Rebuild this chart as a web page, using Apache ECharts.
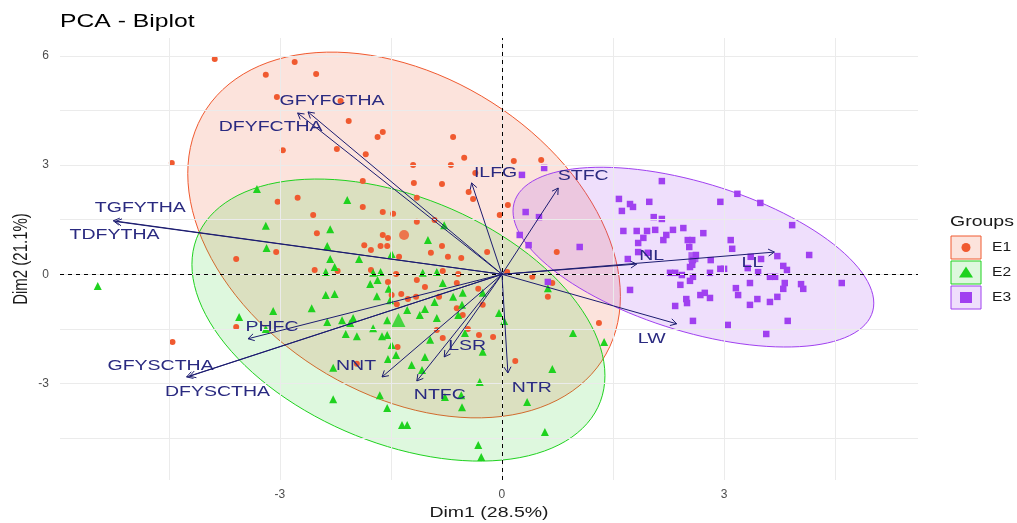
<!DOCTYPE html>
<html>
<head>
<meta charset="utf-8">
<script src="https://cdn.jsdelivr.net/npm/echarts@6/dist/echarts.min.js"></script>
<style>
html,body{margin:0;padding:0;background:#fff;}
#chart{width:1017px;height:523px;}
</style>
</head>
<body>
<div id="chart"></div>
<script>
// ---------------- data ----------------
const groupNames = ['E1', 'E2', 'E3'];
const xTickValues = [-3, 0, 3];
const yTickValues = [-3, 0, 3, 6];
const xGridValues = [-4.5, -3, -1.5, 0, 1.5, 3, 4.5];
const yGridValues = [-4.5, -3, -1.5, 0, 1.5, 3, 4.5, 6];

const e1Points = [
 [-3.88,5.91],[-2.80,5.83],[-3.19,5.48],[-2.51,5.50],[-3.04,4.87],[-2.18,4.76],[-2.07,4.21],[-1.61,3.91],
 [-1.68,3.77],[-0.66,3.77],[-0.51,3.20],[0.16,3.11],[0.53,3.14],[-2.96,3.41],[-2.23,3.44],[-1.84,3.30],
 [-1.20,3.00],[-0.69,3.00],[-0.36,2.78],[-4.46,3.06],[-1.88,2.56],[-1.19,2.51],[-0.81,2.48],[-0.45,2.26],
 [-0.39,2.07],[-1.15,2.10],[-0.03,1.63],[0.08,1.90],[-3.03,1.99],[-2.76,2.10],[-1.88,1.85],[-1.61,1.71],
 [-1.47,1.66],[-2.55,1.63],[-1.15,1.44],[-0.91,1.49],[-2.50,1.13],[-1.61,1.08],[-1.54,1.00],[-1.86,0.80],
 [-1.77,0.67],[-1.64,0.78],[-1.55,0.78],[-1.39,0.48],[-0.96,0.59],[-0.73,0.48],[-0.55,0.45],[-0.81,0.78],
 [-0.20,0.61],[-3.59,0.42],[-3.05,0.61],[-2.53,0.12],[-2.22,0.09],[-1.77,0.12],[-1.43,0.01],[-0.80,0.09],
 [-0.59,0.01],[-1.15,-0.16],[-1.54,-0.21],[-1.04,-0.35],[-0.61,-0.24],[-0.32,-0.40],[-1.49,-0.57],[-1.36,-0.54],
 [-1.16,-0.62],[-1.27,-0.68],[-0.85,-0.62],[-1.42,-0.82],[-0.61,-0.93],[-0.53,-1.12],[-0.26,-0.84],[-0.46,-1.50],
 [-0.31,-1.67],[-0.12,-1.72],[-0.80,-1.75],[-1.41,-2.00],[0.18,-2.38],[1.31,-1.34],[-1.96,-2.46],[0.74,0.61],
 [0.41,-0.07],[0.68,-0.24],[0.62,-0.62],[0.07,0.06],[-3.59,-1.45],[-4.45,-1.86],[-0.88,-1.53]
];
const e2Points = [
 [-3.31,2.34],[-2.09,2.04],[-3.19,1.33],[-2.32,1.24],[-3.18,0.72],[-2.36,0.78],[-2.32,0.42],[-1.93,0.42],
 [-1.00,0.94],[-0.78,1.35],[-1.49,0.56],[-5.46,-0.32],[-3.55,-1.17],[-3.09,-1.01],[-2.57,-0.93],[-3.19,-1.50],
 [-2.26,0.20],[-2.38,0.06],[-1.74,0.04],[-1.64,0.06],[-1.78,-0.27],[-1.68,-0.16],[-1.53,-0.40],[-1.07,0.04],
 [-2.38,-0.57],[-2.26,-0.54],[-1.69,-0.60],[-1.51,-0.71],[-1.28,-0.98],[-1.04,-0.95],[-1.11,-1.12],[-2.36,-1.31],
 [-2.16,-1.26],[-2.01,-1.20],[-2.05,-1.34],[-1.55,-1.26],[-1.74,-1.48],[-2.11,-1.64],[-1.96,-1.70],[-1.62,-1.70],
 [-1.55,-1.67],[-1.49,-1.94],[-1.43,-2.22],[-1.54,-2.33],[-1.04,-2.27],[-1.22,-2.49],[-1.08,-2.63],[-0.97,-1.80],
 [-0.26,-2.13],[-0.30,-2.96],[-2.28,-2.57],[-1.65,-3.32],[-1.55,-3.67],[-2.28,-3.43],[-1.35,-4.14],[-1.28,-4.14],
 [-0.54,-3.65],[-0.55,-3.32],[-0.77,-3.37],[0.34,-3.51],[0.68,-2.60],[0.96,-1.61],[1.38,-1.86],[0.58,-4.33],
 [-0.32,-4.69],[-0.28,-5.02],[-0.88,-1.20],[-0.54,-0.84],[-0.59,-1.12],[-0.04,-1.06],[0.03,-1.28],[-0.88,0.06],
 [-0.80,-0.24],[-0.66,-0.62],[-0.53,-0.51],[-0.91,-0.76],[-0.26,-0.51],[0.62,-0.38],[-0.50,-1.61]
];
const e3Points = [
 [0.27,2.73],[0.57,2.92],[2.16,2.56],[3.18,2.21],[3.49,1.96],[2.95,1.99],[1.99,1.99],[1.58,2.07],
 [1.73,1.93],[1.77,1.85],[1.62,1.74],[0.32,1.71],[0.50,1.57],[2.05,1.57],[2.16,1.52],[3.92,1.35],
 [1.64,1.19],[1.82,1.19],[1.96,1.19],[2.07,1.22],[2.31,1.22],[2.45,1.27],[2.22,1.08],[2.18,0.94],
 [2.72,1.13],[1.91,1.00],[1.84,0.86],[2.51,0.94],[2.57,0.94],[3.09,0.94],[2.53,0.75],[3.11,0.70],
 [0.24,1.08],[0.36,0.80],[1.05,0.75],[1.84,0.61],[1.97,0.59],[2.62,0.53],[2.58,0.39],[2.82,0.39],
 [3.36,0.48],[3.50,0.42],[3.72,0.50],[4.15,0.53],[1.70,0.42],[2.57,0.26],[2.54,0.20],[2.95,0.15],
 [3.00,0.15],[2.81,0.04],[3.32,0.17],[3.46,0.06],[3.80,0.23],[3.85,0.12],[2.27,0.04],[2.34,0.04],
 [2.43,-0.02],[2.58,-0.07],[2.54,-0.18],[3.35,-0.24],[3.62,-0.07],[3.69,-0.07],[3.82,-0.24],[4.04,-0.27],
 [4.59,-0.24],[2.41,-0.29],[1.73,-0.43],[3.16,-0.38],[3.19,-0.57],[3.80,-0.40],[4.07,-0.40],[2.49,-0.68],
 [2.50,-0.79],[2.68,-0.57],[2.74,-0.51],[2.81,-0.65],[2.34,-0.87],[3.45,-0.68],[3.62,-0.76],[3.72,-0.62],
 [3.35,-0.84],[2.58,-1.28],[3.05,-1.39],[3.57,-1.64],[3.86,-1.28],[0.62,-0.21]
];

const varNames = ['GFYFCTHA','DFYFCTHA','TGFYTHA','TDFYTHA','ILFG','STFC','NL','LL','LW','NTR','NTFC','LSR','NNT','PHFC','GFYSCTHA','DFYSCTHA'];
const varX = [-2.62,-2.76,-5.25,-5.22,-0.41,0.76,1.82,3.68,2.36,0.08,-1.15,-0.78,-1.62,-3.43,-4.26,-4.22];
const varY = [4.46,4.43,1.47,1.45,2.51,2.37,0.28,0.61,-1.36,-2.71,-2.93,-2.27,-2.82,-1.77,-2.82,-2.80];

// label nudges (pixels, layout only)
const labelDX = [24,-27,27,-1,24,25,15,-22,-25,24,23,23,-26,24,-26,28];
const labelDY = [-11,14,-13,13,-10,-12,-8,11,15,15,14,-11,-11,-12,-11,16];

// ---------------- style ----------------
const groupColors = ['#F05A30', '#1FD21F', '#A040F0'];
const groupFills = ['rgba(240,90,48,0.17)', 'rgba(31,210,31,0.15)', 'rgba(160,64,240,0.17)'];
const groupSymbols = ['circle', 'triangle', 'rect'];
const groupSizes = [6, 8, 6.5];
const meanSizes = [10, 14, 10];
const navy = '#1C1C70';
const FONT = '"Liberation Sans", Arial, sans-serif';
const STRETCH = 1.3;

// ---------------- helpers ----------------
function meanOf(pts) {
  let sx = 0, sy = 0;
  pts.forEach(p => { sx += p[0]; sy += p[1]; });
  return [sx / pts.length, sy / pts.length];
}
function ellipseOf(pts, level) {
  const n = pts.length;
  const m = meanOf(pts);
  let sxx = 0, syy = 0, sxy = 0;
  pts.forEach(p => {
    const dx = p[0] - m[0], dy = p[1] - m[1];
    sxx += dx * dx; syy += dy * dy; sxy += dx * dy;
  });
  sxx /= (n - 1); syy /= (n - 1); sxy /= (n - 1);
  const a = Math.sqrt(sxx), b = sxy / a, c = Math.sqrt(syy - b * b);
  const d = n - 1;
  const qf = (d / 2) * (Math.pow(1 - level, -2 / d) - 1);
  const r = Math.sqrt(2 * qf);
  const out = [];
  const seg = 120;
  for (let k = 0; k <= seg; k++) {
    const t = 2 * Math.PI * k / seg;
    const ct = Math.cos(t), st = Math.sin(t);
    out.push([m[0] + r * ct * a, m[1] + r * (ct * b + st * c)]);
  }
  return out;
}

const allGroups = [e1Points, e2Points, e3Points];
const means = allGroups.map(meanOf);
const ellipses = allGroups.map(g => ellipseOf(g, 0.95));

const chart = echarts.init(document.getElementById('chart'), null, {renderer: 'canvas'});

const series = [];

// grid lines
series.push({
  type: 'scatter', data: [], silent: true, z: 1,
  markLine: {
    silent: true, symbol: ['none', 'none'], animation: false,
    label: {show: false},
    lineStyle: {color: '#EBEBEB', width: 1, type: 'solid'},
    data: xGridValues.map(v => ({xAxis: v})).concat(yGridValues.map(v => ({yAxis: v})))
  }
});

// ellipses
series.push({
  type: 'custom', z: 2, silent: true,
  data: means,
  encode: {x: 0, y: 1},
  renderItem: function (params, api) {
    const i = params.dataIndex;
    const pts = ellipses[i].map(p => api.coord(p));
    return {
      type: 'polygon',
      shape: {points: pts},
      style: {fill: groupFills[i], stroke: groupColors[i], lineWidth: 1}
    };
  }
});

// dashed zero lines
series.push({
  type: 'scatter', data: [], silent: true, z: 3,
  markLine: {
    silent: true, symbol: ['none', 'none'], animation: false,
    label: {show: false},
    lineStyle: {color: '#000', width: 1, type: [4, 4]},
    data: [{xAxis: 0}, {yAxis: 0}]
  }
});

// group points
allGroups.forEach((g, i) => {
  series.push({
    name: groupNames[i], type: 'scatter', z: 4,
    symbol: groupSymbols[i], symbolSize: groupSizes[i],
    itemStyle: {color: groupColors[i], opacity: 1},
    data: g
  });
});

// group mean points
series.push({
  type: 'scatter', z: 4,
  data: means.map((m, i) => ({
    value: m, symbol: groupSymbols[i], symbolSize: meanSizes[i],
    itemStyle: {color: groupColors[i]}
  }))
});

// variable arrows
series.push({
  type: 'custom', z: 6,
  data: varX.map((x, i) => [x, varY[i]]),
  encode: {x: 0, y: 1},
  renderItem: function (params, api) {
    const i = params.dataIndex;
    const o = api.coord([0, 0]);
    const p = api.coord([api.value(0), api.value(1)]);
    const dx = p[0] - o[0], dy = p[1] - o[1];
    const len = Math.hypot(dx, dy);
    const ux = dx / len, uy = dy / len;
    const L = 7, ang = Math.PI / 6, ca = Math.cos(ang), sa = Math.sin(ang);
    const h1 = [p[0] - L * (ux * ca - uy * sa), p[1] - L * (uy * ca + ux * sa)];
    const h2 = [p[0] - L * (ux * ca + uy * sa), p[1] - L * (uy * ca - ux * sa)];
    return {
      type: 'group',
      children: [
        {type: 'line', shape: {x1: o[0], y1: o[1], x2: p[0], y2: p[1]}, style: {stroke: navy, lineWidth: 1}},
        {type: 'polyline', shape: {points: [h1, p, h2]}, style: {stroke: navy, lineWidth: 1, fill: null}},
        {type: 'text', x: p[0] + labelDX[i], y: p[1] + labelDY[i], scaleX: STRETCH,
         style: {text: varNames[i], x: 0, y: 0, align: 'center', verticalAlign: 'middle',
                 fill: '#2A2A80', fontSize: 15, fontFamily: FONT}}
      ]
    };
  }
});

// legend (graphic)
const legendItems = [];
legendItems.push({type: 'text', x: 950, y: 222, scaleX: STRETCH,
  style: {text: 'Groups', x: 0, y: 0, align: 'left', verticalAlign: 'middle', fill: '#1a1a1a', fontSize: 15, fontFamily: FONT}});
groupNames.forEach((g, i) => {
  const top = 236 + 25 * i, cx = 966, cy = top + 11.5;
  legendItems.push({type: 'rect', shape: {x: 951, y: top, width: 30, height: 23},
    style: {fill: groupFills[i], stroke: groupColors[i], lineWidth: 1}});
  if (i === 0) {
    legendItems.push({type: 'circle', shape: {cx: cx, cy: cy, r: 4.5}, style: {fill: groupColors[i]}});
  } else if (i === 1) {
    legendItems.push({type: 'polygon', shape: {points: [[cx, cy - 6], [cx + 7, cy + 5], [cx - 7, cy + 5]]}, style: {fill: groupColors[i]}});
  } else {
    legendItems.push({type: 'rect', shape: {x: cx - 6, y: cy - 5.5, width: 12, height: 11}, style: {fill: groupColors[i]}});
  }
  legendItems.push({type: 'text', x: 992, y: cy, scaleX: STRETCH,
    style: {text: g, x: 0, y: 0, align: 'left', verticalAlign: 'middle', fill: '#1a1a1a', fontSize: 12, fontFamily: FONT}});
});

const option = {
  animation: false,
  backgroundColor: '#ffffff',
  grid: {left: 60, right: 99, top: 38, bottom: 43, containLabel: false},
  xAxis: {
    type: 'value', min: -5.97, max: 5.62,
    axisLine: {show: false},
    splitLine: {show: false},
    axisTick: {show: true, customValues: xTickValues, length: 5, lineStyle: {color: '#4D4D4D'}},
    axisLabel: {customValues: xTickValues, color: '#4D4D4D', fontSize: 12, fontFamily: FONT, margin: 9}
  },
  yAxis: {
    type: 'value', min: -5.65, max: 6.49,
    axisLine: {show: false},
    splitLine: {show: false},
    axisTick: {show: true, customValues: yTickValues, length: 5, lineStyle: {color: '#4D4D4D'}},
    axisLabel: {customValues: yTickValues, color: '#4D4D4D', fontSize: 12, fontFamily: FONT, margin: 11}
  },
  graphic: [
    {type: 'text', x: 60, y: 22, scaleX: STRETCH,
     style: {text: 'PCA - Biplot', x: 0, y: 0, align: 'left', verticalAlign: 'middle', fill: '#000', fontSize: 19, fontFamily: FONT}},
    {type: 'text', x: 489, y: 513, scaleX: STRETCH,
     style: {text: 'Dim1 (28.5%)', x: 0, y: 0, align: 'center', verticalAlign: 'middle', fill: '#1a1a1a', fontSize: 15, fontFamily: FONT}},
    {type: 'text', x: 22, y: 259, rotation: Math.PI / 2, scaleY: STRETCH,
     style: {text: 'Dim2 (21.1%)', x: 0, y: 0, align: 'center', verticalAlign: 'middle', fill: '#1a1a1a', fontSize: 15, fontFamily: FONT}}
  ].concat(legendItems),
  series: series
};
chart.setOption(option);
</script>
</body>
</html>
